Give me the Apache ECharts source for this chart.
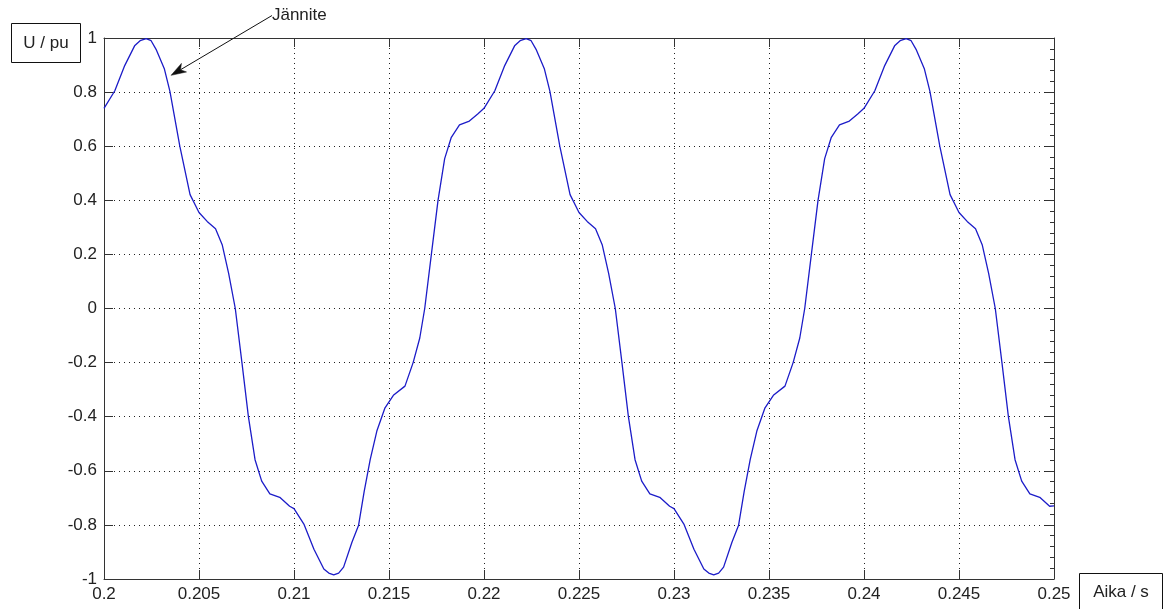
<!DOCTYPE html>
<html>
<head>
<meta charset="utf-8">
<script src="https://cdn.jsdelivr.net/npm/echarts@6/dist/echarts.min.js"></script>
<style>
html,body{margin:0;padding:0;background:#fff;}
#chart{width:1170px;height:609px;}
</style>
</head>
<body>
<div id="chart"></div>
<script>
// Time (s) samples
var time = [
  0.20000, 0.20057, 0.20109, 0.20161, 0.20190, 0.20222, 0.20248, 0.20274, 0.20318, 0.20347,
  0.20399, 0.20453, 0.20500, 0.20543, 0.20587, 0.20622, 0.20656, 0.20691, 0.20726, 0.20760,
  0.20795, 0.20830, 0.20873, 0.20925, 0.20977,
  0.21000, 0.21052, 0.21105, 0.21157, 0.21183, 0.21209, 0.21235, 0.21261, 0.21305, 0.21340,
  0.21369, 0.21401, 0.21436, 0.21479, 0.21523, 0.21584, 0.21627, 0.21662, 0.21688, 0.21723,
  0.21758, 0.21793, 0.21828, 0.21871, 0.21923, 0.21967,
  0.22000, 0.22057, 0.22109, 0.22161, 0.22190, 0.22222, 0.22248, 0.22274, 0.22318, 0.22347,
  0.22399, 0.22453, 0.22500, 0.22543, 0.22587, 0.22622, 0.22656, 0.22691, 0.22726, 0.22760,
  0.22795, 0.22830, 0.22873, 0.22925, 0.22977,
  0.23000, 0.23052, 0.23105, 0.23157, 0.23183, 0.23209, 0.23235, 0.23261, 0.23305, 0.23340,
  0.23369, 0.23401, 0.23436, 0.23479, 0.23523, 0.23584, 0.23627, 0.23662, 0.23688, 0.23723,
  0.23758, 0.23793, 0.23828, 0.23871, 0.23923, 0.23967,
  0.24000, 0.24057, 0.24109, 0.24161, 0.24190, 0.24222, 0.24248, 0.24274, 0.24318, 0.24347,
  0.24399, 0.24453, 0.24500, 0.24543, 0.24587, 0.24622, 0.24656, 0.24691, 0.24726, 0.24760,
  0.24795, 0.24830, 0.24873, 0.24925, 0.24977,
  0.25000
];
// Voltage (pu) samples
var voltage = [
  0.740, 0.805, 0.898, 0.971, 0.990, 0.998, 0.990, 0.958, 0.885, 0.803,
  0.600, 0.421, 0.355, 0.322, 0.295, 0.236, 0.130, 0.000, -0.200, -0.400,
  -0.559, -0.638, -0.685, -0.698, -0.731,
  -0.740, -0.797, -0.890, -0.963, -0.978, -0.985, -0.978, -0.956, -0.864, -0.801,
  -0.678, -0.559, -0.453, -0.367, -0.321, -0.287, -0.200, -0.109, 0.000, 0.200,
  0.400, 0.554, 0.633, 0.679, 0.693, 0.719,
  0.740, 0.805, 0.898, 0.971, 0.990, 0.998, 0.990, 0.958, 0.885, 0.803,
  0.600, 0.421, 0.355, 0.322, 0.295, 0.236, 0.130, 0.000, -0.200, -0.400,
  -0.559, -0.638, -0.685, -0.698, -0.731,
  -0.740, -0.797, -0.890, -0.963, -0.978, -0.985, -0.978, -0.956, -0.864, -0.801,
  -0.678, -0.559, -0.453, -0.367, -0.321, -0.287, -0.200, -0.109, 0.000, 0.200,
  0.400, 0.554, 0.633, 0.679, 0.693, 0.719,
  0.740, 0.805, 0.898, 0.971, 0.990, 0.998, 0.990, 0.958, 0.885, 0.803,
  0.600, 0.421, 0.355, 0.322, 0.295, 0.236, 0.130, 0.000, -0.200, -0.400,
  -0.559, -0.638, -0.685, -0.698, -0.731,
  -0.730
];
var xTicks = ['0.2','0.205','0.21','0.215','0.22','0.225','0.23','0.235','0.24','0.245','0.25'];
var yLabel = 'U / pu';
var xLabel = 'Aika / s';
var annotationText = 'Jännite';
var annotationTip = [0.20353, 0.862];
var annotationTail = [0.20884, 1.083];

var FONT = '"Liberation Sans", Arial, sans-serif';
var TXT = '#222';
var AX = '#333';

var data = time.map(function (t, i) { return [t, voltage[i]]; });

var chart = echarts.init(document.getElementById('chart'), null, {renderer: 'canvas'});

var gridLine = {show: true, lineStyle: {color: '#222', width: 1, type: [1, 4]}};

var option = {
  animation: false,
  backgroundColor: '#fff',
  grid: {left: 104, right: 116, top: 38, bottom: 30, containLabel: false},
  xAxis: [{
    type: 'value', position: 'bottom', min: 0.2, max: 0.25, interval: 0.005,
    axisLine: {show: true, onZero: false, lineStyle: {color: AX, width: 1}},
    axisTick: {show: true, inside: true, length: 9, lineStyle: {color: AX}},
    axisLabel: {show: true, margin: 7, color: TXT, fontFamily: FONT, fontSize: 17,
      formatter: function (v) { var i = Math.round((v - 0.2) / 0.005); return xTicks[i] || ''; }},
    splitLine: gridLine
  }, {
    type: 'value', position: 'top', min: 0.2, max: 0.25, interval: 0.005,
    axisLine: {show: true, onZero: false, lineStyle: {color: AX, width: 1}},
    axisTick: {show: true, inside: true, length: 9, lineStyle: {color: AX}},
    axisLabel: {show: false},
    splitLine: {show: false}
  }],
  yAxis: [{
    type: 'value', position: 'left', min: -1, max: 1, interval: 0.2,
    axisLine: {show: true, onZero: false, lineStyle: {color: AX, width: 1}},
    axisTick: {show: true, inside: true, length: 9, lineStyle: {color: AX}},
    axisLabel: {show: true, margin: 7, color: TXT, fontFamily: FONT, fontSize: 17,
      formatter: function (v) { return String(parseFloat(v.toFixed(1))); }},
    splitLine: gridLine
  }, {
    type: 'value', position: 'right', min: -1, max: 1, interval: 0.2,
    axisLine: {show: true, onZero: false, lineStyle: {color: AX, width: 1}},
    axisTick: {show: true, inside: true, length: 9, lineStyle: {color: AX}},
    minorTick: {show: true, splitNumber: 5, length: 4, lineStyle: {color: AX}},
    axisLabel: {show: false},
    splitLine: {show: false}
  }],
  series: [{
    type: 'line',
    name: annotationText,
    xAxisIndex: 0, yAxisIndex: 0,
    data: data,
    showSymbol: false,
    smooth: false,
    lineStyle: {color: '#1c1cc8', width: 1.3},
    clip: true
  }]
};
chart.setOption(option);

function drawAnnotations() {
  var tip = chart.convertToPixel({xAxisIndex: 0, yAxisIndex: 0}, annotationTip);
  var tail = chart.convertToPixel({xAxisIndex: 0, yAxisIndex: 0}, annotationTail);
  var dx = tip[0] - tail[0], dy = tip[1] - tail[1];
  var len = Math.sqrt(dx * dx + dy * dy);
  var ux = dx / len, uy = dy / len;
  var nx = -uy, ny = ux;
  var hl = 15, hw = 5, notch = 11;
  var back = [tip[0] - ux * hl, tip[1] - uy * hl];
  var w1 = [back[0] + nx * hw, back[1] + ny * hw];
  var w2 = [back[0] - nx * hw, back[1] - ny * hw];
  var nb = [tip[0] - ux * notch, tip[1] - uy * notch];
  chart.setOption({
    graphic: [
      {type: 'rect', shape: {x: 11.5, y: 23.5, width: 69, height: 39},
       style: {fill: '#fff', stroke: '#111', lineWidth: 1}, z: 10},
      {type: 'text', x: 46, y: 43, style: {text: yLabel, font: '17px ' + FONT, fill: TXT,
       textAlign: 'center', textVerticalAlign: 'middle'}, z: 11},
      {type: 'rect', shape: {x: 1079.5, y: 573.5, width: 83, height: 45},
       style: {fill: '#fff', stroke: '#111', lineWidth: 1}, z: 10},
      {type: 'text', x: 1121, y: 592, style: {text: xLabel, font: '17px ' + FONT, fill: TXT,
       textAlign: 'center', textVerticalAlign: 'middle'}, z: 11},
      {type: 'line', shape: {x1: tail[0], y1: tail[1], x2: nb[0], y2: nb[1]},
       style: {stroke: '#111', lineWidth: 1}, z: 10},
      {type: 'polygon', shape: {points: [tip, w1, nb, w2]},
       style: {fill: '#111', stroke: '#111', lineWidth: 0.5}, z: 10},
      {type: 'text', x: tail[0], y: tail[1], style: {text: annotationText, font: '17px ' + FONT,
       fill: TXT, textAlign: 'left', textVerticalAlign: 'middle'}, z: 11}
    ]
  });
}
drawAnnotations();
</script>
</body>
</html>
